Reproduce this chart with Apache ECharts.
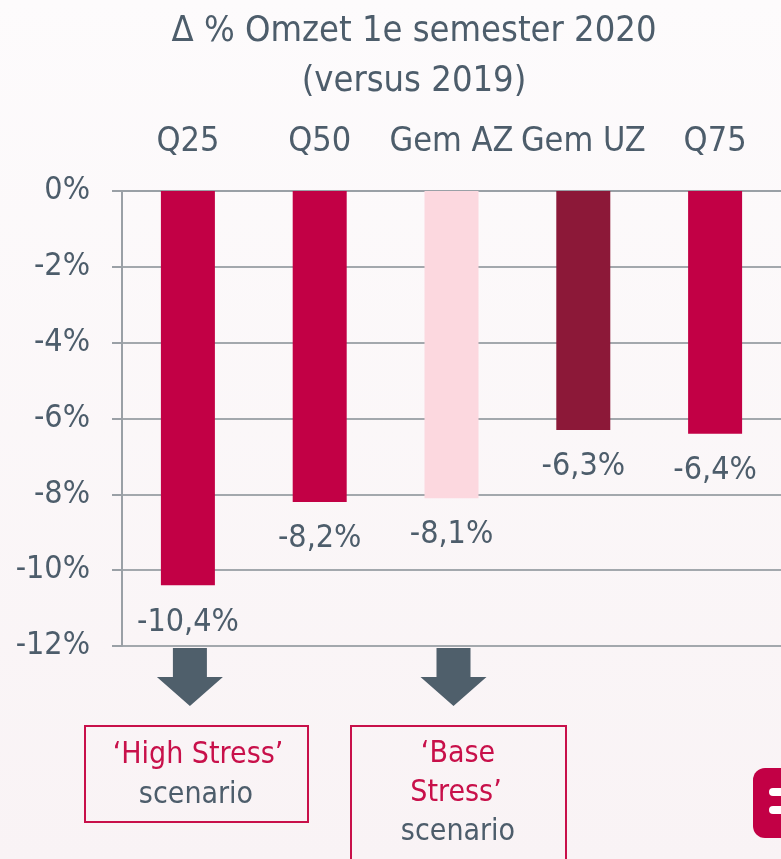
<!DOCTYPE html>
<html>
<head>
<meta charset="utf-8">
<script src="https://cdn.jsdelivr.net/npm/echarts@6/dist/echarts.min.js"></script>
<style>
  html, body { margin: 0; padding: 0; }
  #chart { width: 781px; height: 859px; }
</style>
</head>
<body>
<div id="chart"></div>
<script>
// data
var categories = ['Q25', 'Q50', 'Gem AZ', 'Gem UZ', 'Q75'];
var values = [-10.4, -8.2, -8.1, -6.3, -6.4];
var barColors = ['#c20045', '#c20045', '#fcd8df', '#8c1838', '#c20045'];
var yTicks = [0, -2, -4, -6, -8, -10, -12];

var FONT = '"DejaVu Sans Condensed", "Liberation Sans Narrow", sans-serif';
var GREY = '#4d5d6b';
var RED = '#c8104a';

var myChart = echarts.init(document.getElementById('chart'));

var option = {
    backgroundColor: {
        type: 'linear', x: 0, y: 0, x2: 0, y2: 1,
        colorStops: [{ offset: 0, color: '#fdfbfc' }, { offset: 1, color: '#f9f3f5' }]
    },
    textStyle: { fontFamily: FONT },
    title: {
        text: 'Δ % Omzet 1e semester 2020\n(versus 2019)',
        left: 409,
        top: 2,
        textAlign: 'center',
        textStyle: {
            fontFamily: FONT, fontWeight: 'normal', fontSize: 36,
            color: GREY, lineHeight: 50
        }
    },
    grid: { left: 122, right: -6, top: 191, bottom: 213 },
    xAxis: {
        type: 'category',
        position: 'top',
        data: categories,
        axisLine: { lineStyle: { color: '#9aa0a6', width: 2 } },
        axisTick: { inside: true, length: 12, lineStyle: { color: '#9aa0a6', width: 2 } },
        axisLabel: { interval: 0, margin: 32, fontFamily: FONT, fontSize: 34, color: GREY }
    },
    yAxis: {
        type: 'value',
        min: yTicks[yTicks.length - 1], max: yTicks[0], interval: 2,
        axisLine: { show: true, lineStyle: { color: '#9aa0a6', width: 2 } },
        axisTick: { show: true, length: 10, lineStyle: { color: '#9aa0a6', width: 2 } },
        splitLine: { lineStyle: { color: '#a3a8ad', width: 2 } },
        axisLabel: {
            margin: 32, fontFamily: FONT, fontSize: 32, color: GREY,
            formatter: function (v) { return v + '%'; }
        }
    },
    series: [{
        type: 'bar',
        barWidth: 54,
        data: values.map(function (v, i) {
            return { value: v, itemStyle: { color: barColors[i] } };
        }),
        label: {
            show: true,
            position: 'bottom',
            distance: 21,
            fontFamily: FONT, fontSize: 32, color: GREY,
            formatter: function (p) { return String(p.value).replace('.', ',') + '%'; }
        }
    }]
};

myChart.setOption(option);

// pijlen onder Q25 en Gem AZ, plus de kaders
function arrow(cx) {
    return {
        type: 'polygon',
        shape: { points: [
            [cx - 17, 648], [cx + 17, 648], [cx + 17, 677], [cx + 33, 677],
            [cx, 706], [cx - 33, 677], [cx - 17, 677]
        ] },
        style: { fill: '#4f5f6b' }
    };
}
var x1 = myChart.convertToPixel({ xAxisIndex: 0 }, 'Q25');
var x2 = myChart.convertToPixel({ xAxisIndex: 0 }, 'Gem AZ');

function boxText(x, y, txt, color) {
    return { type: 'text', x: x, y: y,
        style: { text: txt, fill: color, font: '30px ' + FONT, align: 'center', verticalAlign: 'middle' } };
}

myChart.setOption({
    graphic: [
        arrow(x1 + 2),
        arrow(x2 + 2),
        { type: 'rect', shape: { x: 85, y: 726, width: 223, height: 96 },
          style: { fill: 'none', stroke: RED, lineWidth: 2 } },
        { type: 'rect', shape: { x: 351, y: 726, width: 215, height: 140 },
          style: { fill: 'none', stroke: RED, lineWidth: 2 } },
        boxText(198, 755, '‘High Stress’', RED),
        boxText(196, 795, 'scenario', GREY),
        boxText(458, 754, '‘Base', RED),
        boxText(456, 793, 'Stress’', RED),
        boxText(458, 832, 'scenario', GREY),
        // logo rechtsonder
        { type: 'rect', shape: { x: 753, y: 768, width: 50, height: 70, r: 12 }, style: { fill: '#c20045' } },
        { type: 'rect', shape: { x: 769, y: 788, width: 20, height: 8, r: 4 }, style: { fill: '#ffffff' } },
        { type: 'rect', shape: { x: 769, y: 806, width: 20, height: 8, r: 4 }, style: { fill: '#ffffff' } }
    ]
});
</script>
</body>
</html>
